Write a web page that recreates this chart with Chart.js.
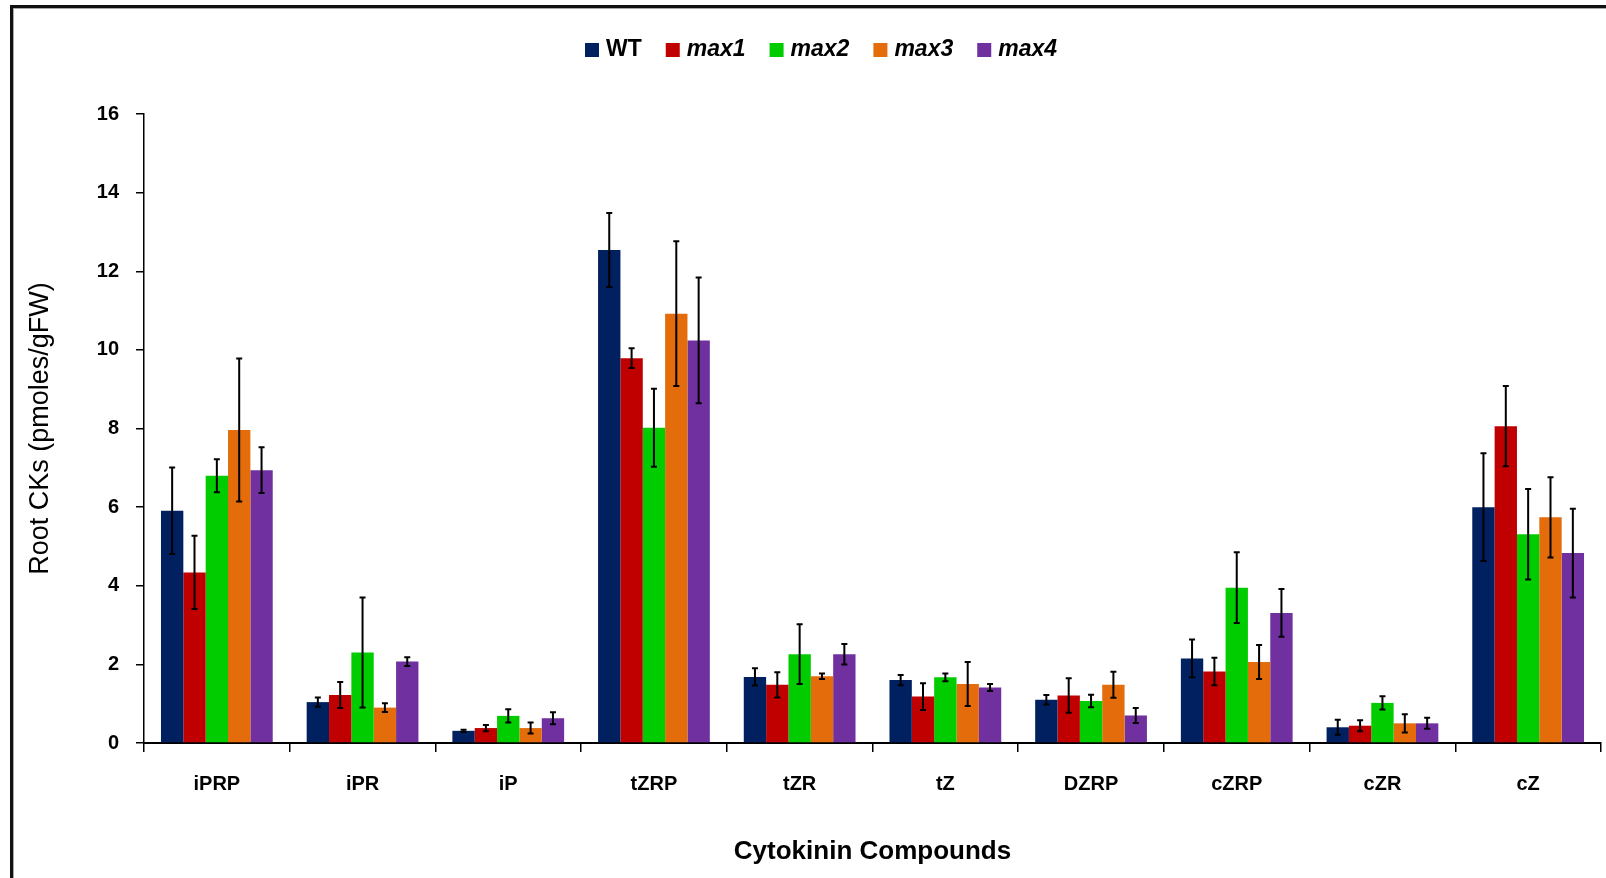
<!DOCTYPE html>
<html>
<head>
<meta charset="utf-8">
<script src="https://cdn.jsdelivr.net/npm/chart.js@4"></script>
<style>
    html, body { margin: 0; padding: 0; background: #fff; }
    #wrap { width: 1606px; height: 878px; }
</style>
</head>
<body>
<div id="wrap"><canvas id="ck-chart" width="1606" height="878"></canvas></div>
<script>
// --- Data ---
const compounds = ['iPRP', 'iPR', 'iP', 'tZRP', 'tZR', 'tZ', 'DZRP', 'cZRP', 'cZR', 'cZ'];
const seriesNames = ['WT', 'max1', 'max2', 'max3', 'max4'];
const seriesColors = ['#002060', '#C00000', '#00CC00', '#E46C0A', '#7030A0'];

const wtValues   = [5.91, 1.04, 0.31, 12.54, 1.68, 1.60, 1.10, 2.15, 0.40, 6.00];
const max1Values = [4.34, 1.22, 0.38, 9.79, 1.48, 1.18, 1.21, 1.82, 0.44, 8.06];
const max2Values = [6.80, 2.30, 0.69, 8.02, 2.26, 1.67, 1.07, 3.95, 1.02, 5.31];
const max3Values = [7.96, 0.90, 0.38, 10.92, 1.70, 1.50, 1.48, 2.06, 0.50, 5.74];
const max4Values = [6.94, 2.07, 0.63, 10.24, 2.26, 1.41, 0.70, 3.31, 0.50, 4.83];

const wtErr   = [1.10, 0.12, 0.03, 0.94, 0.22, 0.13, 0.12, 0.48, 0.19, 1.37];
const max1Err = [0.93, 0.33, 0.08, 0.25, 0.32, 0.34, 0.44, 0.35, 0.14, 1.02];
const max2Err = [0.42, 1.40, 0.17, 0.99, 0.76, 0.10, 0.16, 0.90, 0.17, 1.15];
const max3Err = [1.82, 0.11, 0.14, 1.84, 0.07, 0.56, 0.33, 0.43, 0.23, 1.02];
const max4Err = [0.58, 0.11, 0.15, 1.60, 0.26, 0.09, 0.19, 0.61, 0.14, 1.13];

const yTicks = [0, 2, 4, 6, 8, 10, 12, 14, 16];

const allValues = [wtValues, max1Values, max2Values, max3Values, max4Values];
const allErrors = [wtErr, max1Err, max2Err, max3Err, max4Err];

// --- Plugins ---
const framePlugin = {
    id: 'frame',
    beforeDraw(chart) {
        const ctx = chart.ctx;
        ctx.save();
        ctx.fillStyle = '#fff';
        ctx.fillRect(0, 0, chart.width, chart.height);
        ctx.fillStyle = '#111';
        ctx.fillRect(10, 5, chart.width - 10, 3);
        ctx.fillRect(10, 5, 3, chart.height - 5);
        ctx.fillStyle = '#aaa';
        ctx.fillRect(13, 8, chart.width - 13, 1);
        ctx.fillRect(13, 8, 1, chart.height - 8);
        ctx.restore();
    }
};

const errorBarPlugin = {
    id: 'errorBars',
    afterDatasetsDraw(chart) {
        const ctx = chart.ctx;
        const yScale = chart.scales.y;
        ctx.save();
        ctx.strokeStyle = '#000';
        ctx.lineWidth = 2;
        chart.data.datasets.forEach((ds, di) => {
            const meta = chart.getDatasetMeta(di);
            meta.data.forEach((bar, i) => {
                const v = ds.data[i];
                const e = ds.errors[i];
                const yTop = yScale.getPixelForValue(v + e);
                const yBot = yScale.getPixelForValue(v - e);
                const x = bar.x;
                ctx.beginPath();
                ctx.moveTo(x, yTop);
                ctx.lineTo(x, yBot);
                ctx.moveTo(x - 3, yTop);
                ctx.lineTo(x + 3, yTop);
                ctx.moveTo(x - 3, yBot);
                ctx.lineTo(x + 3, yBot);
                ctx.stroke();
            });
        });
        ctx.restore();
    }
};

const legendPlugin = {
    id: 'customLegend',
    afterDraw(chart) {
        const ctx = chart.ctx;
        let x = 585;
        const cy = 50;
        ctx.save();
        ctx.textBaseline = 'middle';
        seriesNames.forEach((name, i) => {
            ctx.fillStyle = seriesColors[i];
            ctx.fillRect(x, cy - 7, 14, 14);
            x += 21;
            ctx.font = (i === 0 ? '' : 'italic ') + 'bold 23px "Liberation Sans", Arial, sans-serif';
            ctx.fillStyle = '#000';
            ctx.fillText(name, x, cy);
            x += ctx.measureText(name).width + 24;
        });
        ctx.restore();
    }
};

// --- Chart ---
const ctx = document.getElementById('ck-chart').getContext('2d');
const chart = new Chart(ctx, {
    type: 'bar',
    data: {
        labels: compounds,
        datasets: seriesNames.map((name, i) => ({
            label: name,
            data: allValues[i],
            errors: allErrors[i],
            backgroundColor: seriesColors[i],
            borderWidth: 0,
            categoryPercentage: 0.767,
            barPercentage: 1.0
        }))
    },
    options: {
        responsive: false,
        animation: false,
        layout: { padding: { top: 114, right: 5, left: 0, bottom: 0 } },
        plugins: {
            legend: { display: false },
            tooltip: { enabled: false }
        },
        scales: {
            x: {
                offset: true,
                grid: {
                    offset: true,
                    drawOnChartArea: false,
                    drawTicks: true,
                    tickLength: 9,
                    color: '#000',
                    lineWidth: 1.5
                },
                border: { display: true, color: '#000', width: 2 },
                ticks: {
                    color: '#000',
                    padding: 20,
                    font: { family: '"Liberation Sans", Arial, sans-serif', size: 20, weight: 'bold' }
                },
                title: {
                    display: true,
                    text: 'Cytokinin Compounds',
                    color: '#000',
                    padding: { top: 0, bottom: 11 },
                    font: { family: '"Liberation Sans", Arial, sans-serif', size: 26, weight: 'bold' }
                },
                afterFit(scale) { scale.height = 135; }
            },
            y: {
                min: 0,
                max: 16,
                afterBuildTicks(scale) { scale.ticks = yTicks.map(v => ({ value: v })); },
                grid: {
                    drawOnChartArea: false,
                    drawTicks: true,
                    tickLength: 8,
                    color: '#000',
                    lineWidth: 1.5
                },
                border: { display: true, color: '#000', width: 1.5 },
                ticks: {
                    color: '#000',
                    padding: 17,
                    font: { family: '"Liberation Sans", Arial, sans-serif', size: 20, weight: 'bold' }
                },
                title: {
                    display: true,
                    text: 'Root CKs (pmoles/gFW)',
                    color: '#000',
                    padding: { top: 24, bottom: 0 },
                    font: { family: '"Liberation Sans", Arial, sans-serif', size: 27 }
                },
                afterFit(scale) { scale.width = 144; }
            }
        }
    },
    plugins: [framePlugin, errorBarPlugin, legendPlugin]
});
</script>
</body>
</html>
